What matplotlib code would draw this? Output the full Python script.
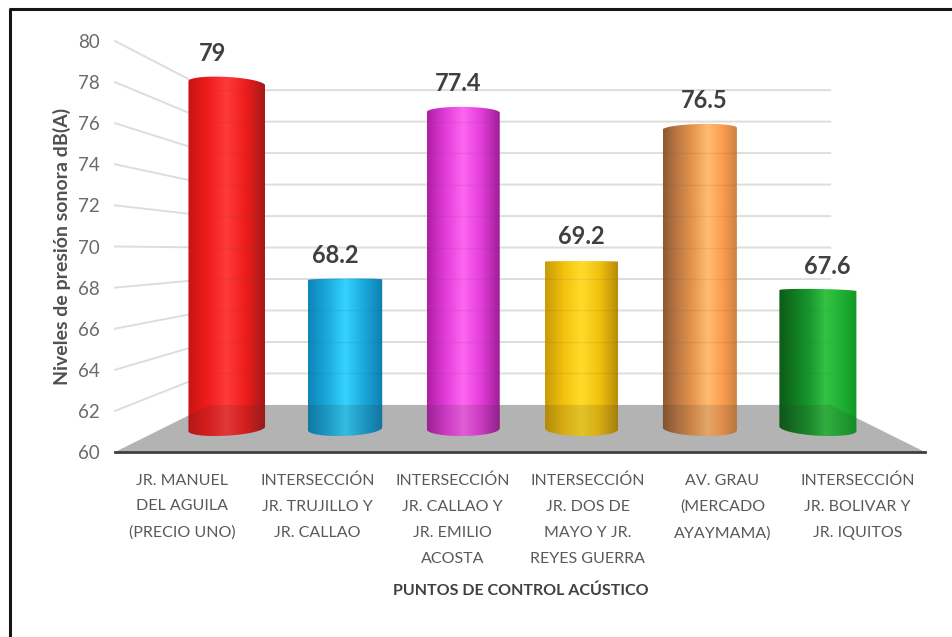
"""Sound pressure levels per control point, drawn as 3D-looking cylinders."""
import numpy as np
import matplotlib
matplotlib.use("Agg")
import matplotlib.pyplot as plt
from matplotlib.colors import LinearSegmentedColormap
from matplotlib.lines import Line2D
from matplotlib.patches import Polygon

plt.rcParams["font.family"] = ["Lato", "DejaVu Sans"]

# -------------------------------------------------------------------
# Data
# -------------------------------------------------------------------
CATEGORIES = [
    "JR. MANUEL\nDEL AGUILA\n(PRECIO UNO)",
    "INTERSECCIÓN\nJR. TRUJILLO Y\nJR. CALLAO",
    "INTERSECCIÓN\nJR. CALLAO Y\nJR. EMILIO\nACOSTA",
    "INTERSECCIÓN\nJR. DOS DE\nMAYO Y JR.\nREYES GUERRA",
    "AV. GRAU\n(MERCADO\nAYAYMAMA)",
    "INTERSECCIÓN\nJR. BOLIVAR Y\nJR. IQUITOS",
]
VALUES = [79, 68.2, 77.4, 69.2, 76.5, 67.6]
VALUE_TEXT = ["79", "68.2", "77.4", "69.2", "76.5", "67.6"]
Y_TICKS = [60, 62, 64, 66, 68, 70, 72, 74, 76, 78, 80]

# colour across each cylinder, left edge to right edge
BAR_COLORS = [
    ["#c81414", "#f01c1c", "#ff3a3a", "#f01c1c", "#a81818"],
    ["#0d85b8", "#1ba8dc", "#35d4ff", "#1ba8dc", "#0d7fb0"],
    ["#b01ea6", "#e23cd8", "#ff66f2", "#e23cd8", "#a01e98"],
    ["#c89a06", "#f2c20e", "#ffdc2a", "#f2c20e", "#b88c08"],
    ["#8e5a30", "#c07a44", "#e8964e", "#ffbc72", "#fc9c50", "#c98040"],
    ["#0b5c18", "#117a20", "#1a9a2e", "#34c244", "#20b034", "#109a24"],
]

# -------------------------------------------------------------------
# Perspective of the floor and walls
# -------------------------------------------------------------------
BACK_SCALE = 0.766
BACK_LIFT = 2.29
BAR_DEPTH = 0.5
LABEL_DEPTH = 0.38
RADIUS_X = 0.305
RADIUS_D = 0.16


def project(x, v, d):
    """Category position x, level v, depth d (0 front, 1 back) to axes data."""
    s = 1 - (1 - BACK_SCALE) * d
    return 3 + (x - 3) * s, 60 + BACK_LIFT * d + (v - 60) * s


def convex_hull(points):
    pts = sorted(set(map(tuple, points)))

    def half(seq):
        out = []
        for p in seq:
            while len(out) > 1 and (
                (out[-1][0] - out[-2][0]) * (p[1] - out[-2][1])
                - (out[-1][1] - out[-2][1]) * (p[0] - out[-2][0])
            ) <= 0:
                out.pop()
            out.append(p)
        return out[:-1]

    return np.array(half(pts) + half(pts[::-1]))


fig = plt.figure(figsize=(9.52, 6.37), dpi=100)
ax = fig.add_axes([115 / 952, 1 - 452 / 637, 810 / 952, 411 / 637])
ax.set_xlim(0, 6)
ax.set_ylim(60, 80)
for spine in ax.spines.values():
    spine.set_visible(False)

# the picture only has a frame line on its left and top
fig.add_artist(Line2D([9.5 / 952, 9.5 / 952, 1], [0, 1 - 9 / 637, 1 - 9 / 637],
                      transform=fig.transFigure, color="#151515", linewidth=2.2))

# walls
GRID = "#dddddd"
for v in Y_TICKS[1:]:
    x0, y0 = project(0, v, 0)
    x1, y1 = project(0, v, 1)
    x2, y2 = project(6, v, 1)
    ax.plot([x0, x1, x2], [y0, y1, y2], color=GRID, lw=1.4, zorder=1, clip_on=False)

# floor
corners = [project(0, 60, 0), project(6, 60, 0), project(6, 60, 1), project(0, 60, 1)]
ax.add_patch(Polygon(corners, facecolor="#b3b3b3", edgecolor="none", zorder=1))

# cylinders
angles = np.linspace(0, 2 * np.pi, 121)
for i, (value, colors) in enumerate(zip(VALUES, BAR_COLORS)):
    cx = 3.02 + (i - 2.5) * 0.99
    outline = []
    for v in (60, value):
        xs, ys = project(cx + RADIUS_X * np.cos(angles),
                         v,
                         BAR_DEPTH + RADIUS_D * np.sin(angles))
        outline.extend(zip(np.round(xs, 4), np.round(ys, 4)))
    hull = convex_hull(outline)
    shape = Polygon(hull, facecolor="none", edgecolor="none", transform=ax.transData)
    ax.add_patch(shape)
    cmap = LinearSegmentedColormap.from_list(f"bar{i}", colors)
    img = ax.imshow(np.linspace(0, 1, 128).reshape(1, -1), cmap=cmap, aspect="auto",
                    extent=(hull[:, 0].min(), hull[:, 0].max(), 60, 80), zorder=2)
    img.set_clip_path(shape)

    # floor and grid showing faintly through the cylinder
    veil = Polygon(corners, facecolor="#303030", alpha=0.14, edgecolor="none", zorder=3)
    ax.add_patch(veil)
    veil.set_clip_path(shape)
    for v in Y_TICKS[1:]:
        x1, y1 = project(0, v, 1)
        x2, y2 = project(6, v, 1)
        line, = ax.plot([x1, x2], [y1, y2], color="#505050", alpha=0.10, lw=1, zorder=3)
        line.set_clip_path(shape)

    tx, ty = project(i + 0.5, value, LABEL_DEPTH)
    ax.annotate(VALUE_TEXT[i], (tx, ty), xytext=(0, 18),
                textcoords="offset points", ha="center", va="center",
                fontsize=17, color="#404040", fontweight="bold", zorder=5,
                annotation_clip=False)

ax.set_xlim(0, 6)
ax.set_ylim(60, 80)

# front edge of the floor
ax.plot([0, 6], [60, 60], color="#404040", lw=2, zorder=4, clip_on=False)

ax.set_yticks(Y_TICKS)
ax.tick_params(axis="y", length=0, pad=11, labelsize=13.5, labelcolor="#6a6a6a")
ax.set_xticks(np.arange(len(CATEGORIES)) + 0.5)
ax.set_xticklabels(CATEGORIES, linespacing=2.08)
ax.tick_params(axis="x", length=0, pad=15.5, labelsize=11.5, labelcolor="#595959")

fig.text(62 / 952, 1 - 246 / 637, "Niveles de presión sonora dB(A)", rotation=90,
         ha="center", va="center", fontsize=14, fontweight="bold", color="#505050")
fig.text(521 / 952, 1 - 591 / 637, "PUNTOS DE CONTROL ACÚSTICO",
         ha="center", va="center", fontsize=11.5, fontweight="bold", color="#404040")

fig.savefig("out.png", dpi=100)
